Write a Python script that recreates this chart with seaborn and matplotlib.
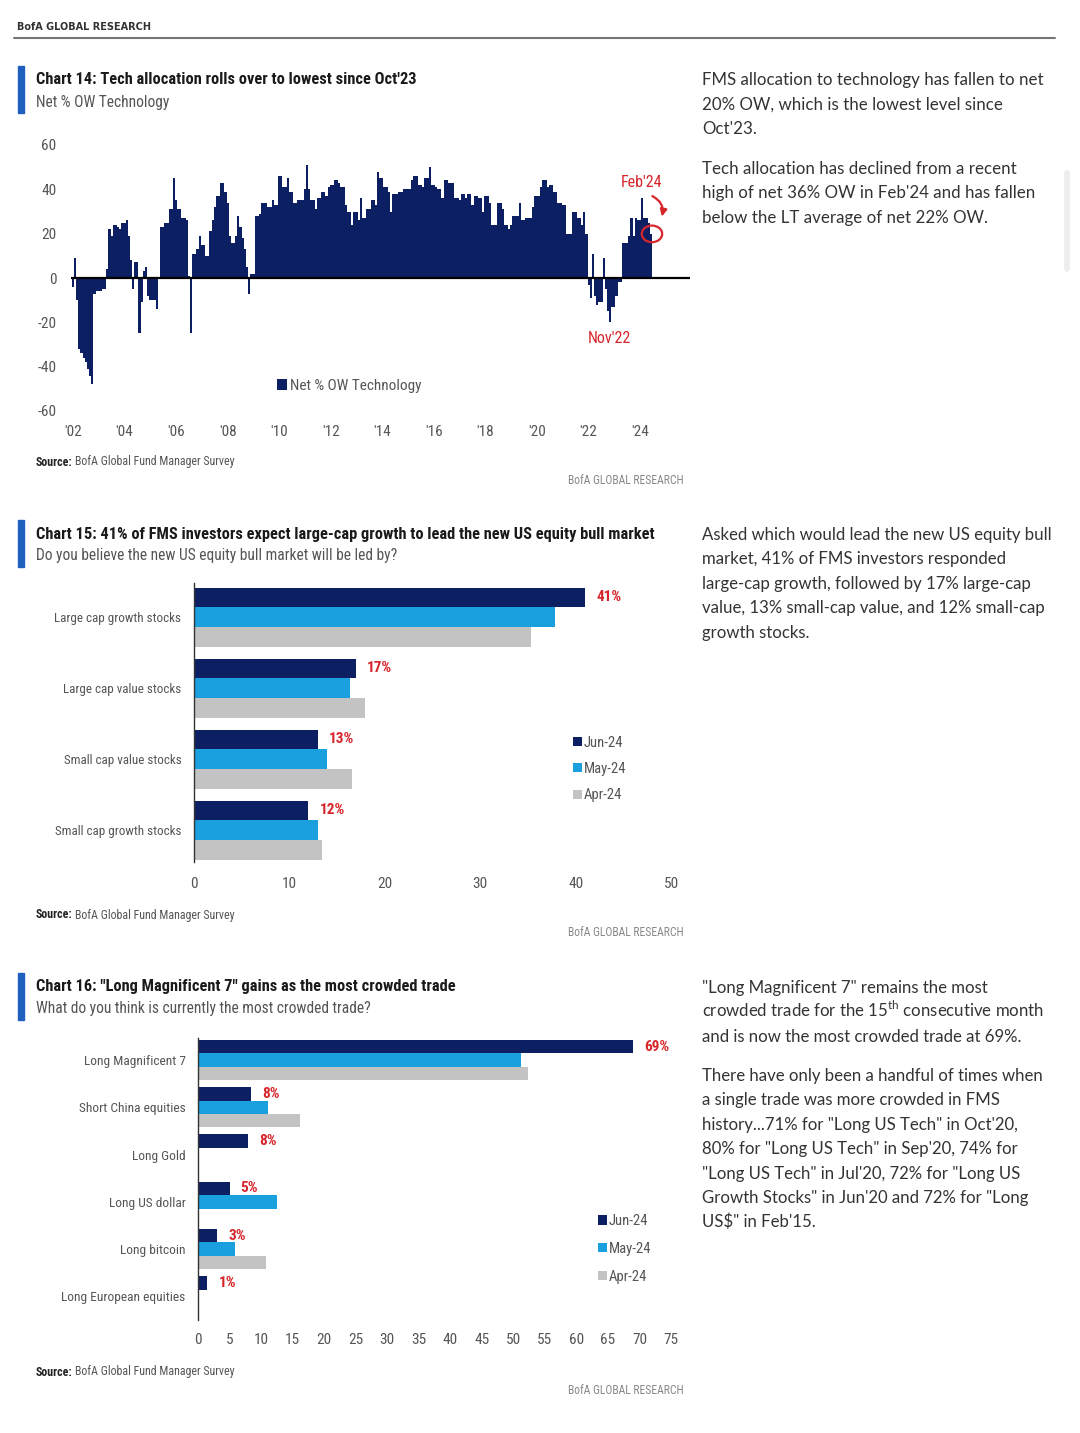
"""
BofA Global Fund Manager Survey - charts 14, 15 and 16 page.
"""

import numpy as np
import pandas as pd
import matplotlib.pyplot as plt
from matplotlib import font_manager
from matplotlib.patches import Ellipse, Rectangle, FancyBboxPatch
import seaborn as sns

# ---- Chart 14: net % OW technology, monthly from Jan 2002 ----
net_ow_2002_2007 = [
    -4, 9, -10, -32, -34, -36, -38, -41, -44, -48, -7, -6,
    -6, -6, -5, -5, 4, 22, 19, 24, 24, 23, 22, 25,
    25, 26, 19, 8, -5, 7, 7, -25, -11, 3, 5, -8,
    -10, -10, -10, -14, 0, 23, 23, 25, 25, 31, 31, 45,
    35, 31, 31, 27, 27, 26, 1, -25, 11, 11, 13, 19,
    15, 15, 10, 10, 21, 26, 32, 37, 37, 43, 43, 39,
]
net_ow_2008_2013 = [
    34, 19, 16, 16, 19, 28, 23, 18, 13, 5, -7, 2,
    2, 28, 28, 29, 34, 34, 34, 32, 32, 35, 33, 33,
    46, 46, 41, 41, 45, 39, 39, 34, 34, 35, 35, 35,
    40, 51, 40, 35, 35, 31, 36, 36, 39, 39, 37, 41,
    42, 42, 44, 44, 43, 41, 41, 33, 30, 30, 24, 30,
    30, 26, 36, 27, 27, 31, 31, 35, 35, 33, 48, 45,
]
net_ow_2014_2019 = [
    45, 41, 41, 39, 30, 38, 38, 38, 39, 39, 40, 40,
    40, 40, 44, 46, 46, 42, 42, 41, 45, 45, 50, 42,
    42, 41, 40, 40, 36, 44, 44, 43, 43, 43, 36, 36,
    35, 38, 38, 36, 38, 38, 33, 37, 37, 36, 36, 30,
    37, 37, 34, 24, 24, 24, 34, 34, 31, 24, 24, 22,
    24, 28, 28, 28, 34, 26, 26, 27, 27, 27, 32, 37,
]
net_ow_2020_2024 = [
    37, 37, 41, 44, 44, 41, 42, 42, 39, 39, 34, 34,
    33, 33, 20, 20, 20, 30, 30, 27, 27, 24, 30, 20,
    -3, -9, 11, -8, -12, -11, -11, 9, -5, -15, -20, -13,
    -13, -8, -2, -2, 16, 16, 16, 19, 27, 19, 27, 26,
    26, 36, 27, 27, 25, 20,
]
year_ticks = ["'02", "'04", "'06", "'08", "'10", "'12", "'14", "'16", "'18", "'20", "'22", "'24"]

# ---- Chart 15: who leads the new US equity bull market ----
leaders = ["Large cap growth stocks", "Large cap value stocks",
           "Small cap value stocks", "Small cap growth stocks"]
leaders_jun = [41, 17, 13, 12]
leaders_may = [37.8, 16.4, 13.9, 13.0]
leaders_apr = [35.3, 17.9, 16.6, 13.4]
leaders_labels = ["41%", "17%", "13%", "12%"]

# ---- Chart 16: most crowded trade ----
trades = ["Long Magnificent 7", "Short China equities", "Long Gold",
          "Long US dollar", "Long bitcoin", "Long European equities"]
trades_jun = [69, 8.4, 8, 5, 3, 1.5]
trades_may = [51.2, 11.1, None, 12.5, 5.9, None]
trades_apr = [52.3, 16.2, None, None, 10.8, None]
trades_labels = ["69%", "8%", "8%", "5%", "3%", "1%"]

months = ["Jun-24", "May-24", "Apr-24"]

NAVY = "#0c1f63"
LIGHT_BLUE = "#1a9fdf"
GREY_BAR = "#c3c3c3"
RED = "#d7262b"
ACCENT = "#1f5fbf"
TXT = "#555555"

W, H = 1080, 1433

# pick a condensed family for the chart text if one is installed
installed = {f.name for f in font_manager.fontManager.ttflist}
dejavu_condensed = any(f.name == "DejaVu Sans" and "condensed" in str(f.stretch).lower()
                       for f in font_manager.fontManager.ttflist)
NARROW_STRETCH = "normal"
if "Roboto Condensed" in installed:
    NARROW, SCALE = ["Roboto Condensed", "DejaVu Sans"], 1.0
elif "Liberation Sans Narrow" in installed:
    NARROW, SCALE = ["Liberation Sans Narrow", "DejaVu Sans"], 1.0
elif dejavu_condensed:
    NARROW, SCALE, NARROW_STRETCH = ["DejaVu Sans"], 0.92, "condensed"
else:
    NARROW, SCALE = ["Liberation Sans", "DejaVu Sans"], 0.86
BODY = ["Lato", "DejaVu Sans"]

sns.set_theme(style="white")
plt.rcParams["font.family"] = NARROW
plt.rcParams["font.stretch"] = NARROW_STRETCH
plt.rcParams["mathtext.fontset"] = "custom"
plt.rcParams["mathtext.rm"] = "Lato"


def fs(size):
    return size * SCALE


fig = plt.figure(figsize=(W / 100, H / 100), dpi=100)
fig.patch.set_facecolor("white")


def box(x0, y0, x1, y1):
    return [x0 / W, 1 - y1 / H, (x1 - x0) / W, (y1 - y0) / H]


def ftext(x, y, s, **kw):
    kw.setdefault("va", "center")
    kw.setdefault("family", NARROW)
    fig.text(x / W, 1 - y / H, s, **kw)


def chart_header(y_title, title, subtitle):
    fig.patches.append(Rectangle((18 / W, 1 - (y_title + 33) / H), 6 / W, 47 / H,
                                 transform=fig.transFigure, color=ACCENT))
    ftext(36, y_title, title, fontsize=fs(11.8), fontweight="bold", color="#1a1a1a")
    ftext(36, y_title + 22, subtitle, fontsize=fs(11.2), color=TXT)


def chart_footer(y_source):
    ftext(36, y_source, "Source:", fontsize=fs(8.6), fontweight="bold", color="#222222")
    ftext(75, y_source, "BofA Global Fund Manager Survey", fontsize=fs(8.6), color=TXT)
    ftext(684, y_source + 18, "BofA GLOBAL RESEARCH", fontsize=fs(8.4), color="#888888", ha="right")


def body_text(x, y0, lines, pitch=24.4, size=12.1):
    for k, line in enumerate(lines):
        ftext(x, y0 + k * pitch + 6, line, fontsize=size, color="#333333",
              family=BODY, va="baseline", stretch="normal")


# ---- page header ----
ftext(17, 27, "BofA GLOBAL RESEARCH", fontsize=7, fontweight="bold", color="#333333",
      family=["DejaVu Sans"], stretch="normal")
fig.lines.append(plt.Line2D([14 / W, 1055 / W], [1 - 38 / H, 1 - 38 / H],
                            transform=fig.transFigure, color="#777777", lw=1.5))
# faint scrollbar of the captured page
fig.patches.append(FancyBboxPatch((1064 / W, 1 - 272 / H), 6 / W, 102 / H,
                                  boxstyle="round,pad=0,rounding_size=0.003",
                                  transform=fig.transFigure, color="#eeeeee", lw=0))

# ================= Chart 14 =================
net_ow = net_ow_2002_2007 + net_ow_2008_2013 + net_ow_2014_2019 + net_ow_2020_2024
tech_df = pd.DataFrame({"month": np.arange(len(net_ow)), "net_ow": net_ow})

chart_header(80, "Chart 14: Tech allocation rolls over to lowest since Oct'23", "Net % OW Technology")
ax1 = fig.add_axes(box(62, 145, 690, 411))
sns.barplot(data=tech_df, x="month", y="net_ow", native_scale=True, orient="x",
            width=1.0, color=NAVY, saturation=1, linewidth=0, errorbar=None,
            label="Net % OW Technology", ax=ax1)
ax1.hlines(0, -0.8, 300, color="black", lw=1.6)
ax1.set_xlim(-5.1, 287.2)
ax1.set_ylim(-60, 60)
ax1.set_xticks(np.arange(0, 265, 24))
ax1.set_xticklabels(year_ticks)
ax1.set_yticks(np.arange(-60, 61, 20))
ax1.set_yticklabels([str(v) for v in np.arange(-60, 61, 20)])
ax1.tick_params(axis="x", length=0, pad=10, labelsize=fs(11), labelcolor=TXT)
ax1.tick_params(axis="y", length=0, pad=4, labelsize=fs(11), labelcolor=TXT)
ax1.set_xlabel("")
ax1.set_ylabel("")
for sp in ax1.spines.values():
    sp.set_visible(False)
ax1.legend(loc="center left", bbox_to_anchor=(263 / W, 1 - 386 / H),
           bbox_transform=fig.transFigure, frameon=False, fontsize=fs(11),
           handlelength=0.7, handleheight=0.7, handletextpad=0.15, labelcolor=TXT)

ax1.text(264.5, 43, "Feb'24", color=RED, fontsize=fs(11.5), ha="center", va="center")
ax1.text(249.5, -27.5, "Nov'22", color=RED, fontsize=fs(11.5), ha="center", va="center")
ax1.add_patch(Ellipse((269.5, 19.9), 9.5, 7.5, fill=False, edgecolor=RED, lw=1.6))
ax1.annotate("", xy=(273.8, 26.5), xytext=(268.5, 37.5),
             arrowprops=dict(arrowstyle="-|>", color=RED, lw=1.6,
                             connectionstyle="arc3,rad=-0.45", mutation_scale=10))
chart_footer(462)

body_text(702, 79, ["FMS allocation to technology has fallen to net",
                    "20% OW, which is the lowest level since",
                    "Oct'23."], size=12.2)
body_text(702, 168, ["Tech allocation has declined from a recent",
                     "high of net 36% OW in Feb'24 and has fallen",
                     "below the LT average of net 22% OW."], size=12.2)


def grouped_bars(ax, cats, jun, may, apr, width):
    df = pd.DataFrame({
        "category": cats * 3,
        "month": [months[0]] * len(cats) + [months[1]] * len(cats) + [months[2]] * len(cats),
        "value": jun + may + apr,
    })
    df["value"] = pd.to_numeric(df["value"])
    df = df.dropna()
    sns.barplot(data=df, y="category", x="value", hue="month", order=cats,
                hue_order=months, palette=[NAVY, LIGHT_BLUE, GREY_BAR],
                saturation=1, orient="y", width=width, gap=0, linewidth=0,
                errorbar=None, ax=ax)
    ax.set_xlabel("")
    ax.set_ylabel("")
    for name, sp in ax.spines.items():
        sp.set_visible(name == "left")
    ax.spines["left"].set_color("#333333")
    ax.spines["left"].set_linewidth(1.0)


# ================= Chart 15 =================
chart_header(534, "Chart 15: 41% of FMS investors expect large-cap growth to lead the new US equity bull market",
             "Do you believe the new US equity bull market will be led by?")
ax2 = fig.add_axes(box(194, 583, 671, 862))
grouped_bars(ax2, leaders, leaders_jun, leaders_may, leaders_apr, 0.83)
ax2.set_xlim(0, 50)
ax2.set_ylim(3.45, -0.48)
ax2.set_xticks(np.arange(0, 51, 10))
ax2.tick_params(axis="x", length=0, pad=11, labelsize=fs(11), labelcolor=TXT)
ax2.tick_params(axis="y", length=0, pad=9, labelsize=fs(9.4), labelcolor=TXT)
for k, (v, lab) in enumerate(zip(leaders_jun, leaders_labels)):
    ax2.annotate(lab, xy=(v, k - 0.83 / 3), xytext=(8, 0), textcoords="offset points",
                 color=RED, fontsize=fs(11), fontweight="bold", va="center", ha="left")
ax2.legend(loc="center left", bbox_to_anchor=(560 / W, 1 - 769 / H),
           bbox_transform=fig.transFigure, frameon=False, fontsize=fs(10.5),
           handlelength=0.6, handleheight=0.6, handletextpad=0.15,
           labelspacing=0.85, labelcolor=TXT)
chart_footer(915)

body_text(702, 534, ["Asked which would lead the new US equity bull",
                     "market, 41% of FMS investors responded",
                     "large-cap growth, followed by 17% large-cap",
                     "value, 13% small-cap value, and 12% small-cap",
                     "growth stocks."])

# ================= Chart 16 =================
chart_header(987, "Chart 16: \"Long Magnificent 7\" gains as the most crowded trade",
             "What do you think is currently the most crowded trade?")
ax3 = fig.add_axes(box(198, 1038, 671, 1320))
grouped_bars(ax3, trades, trades_jun, trades_may, trades_apr, 0.85)
ax3.set_xlim(0, 75)
ax3.set_ylim(5.5, -0.465)
ax3.set_xticks(np.arange(0, 76, 5))
ax3.tick_params(axis="x", length=0, pad=9, labelsize=fs(11), labelcolor=TXT)
ax3.tick_params(axis="y", length=0, pad=9, labelsize=fs(9.6), labelcolor=TXT)
for k, (v, lab) in enumerate(zip(trades_jun, trades_labels)):
    ax3.annotate(lab, xy=(v, k - 0.85 / 3), xytext=(8, 0), textcoords="offset points",
                 color=RED, fontsize=fs(11), fontweight="bold", va="center", ha="left")
ax3.legend(loc="center left", bbox_to_anchor=(585 / W, 1 - 1249 / H),
           bbox_transform=fig.transFigure, frameon=False, fontsize=fs(10.5),
           handlelength=0.6, handleheight=0.6, handletextpad=0.15,
           labelspacing=0.95, labelcolor=TXT)
chart_footer(1372)

body_text(702, 987, ["\"Long Magnificent 7\" remains the most",
                     "crowded trade for the 15$^{\\rm th}$ consecutive month",
                     "and is now the most crowded trade at 69%."])
body_text(702, 1075, ["There have only been a handful of times when",
                      "a single trade was more crowded in FMS",
                      "history...71% for \"Long US Tech\" in Oct'20,",
                      "80% for \"Long US Tech\" in Sep'20, 74% for",
                      "\"Long US Tech\" in Jul'20, 72% for \"Long US",
                      "Growth Stocks\" in Jun'20 and 72% for \"Long",
                      "US$\" in Feb'15."])

fig.savefig("out.png", dpi=100)
